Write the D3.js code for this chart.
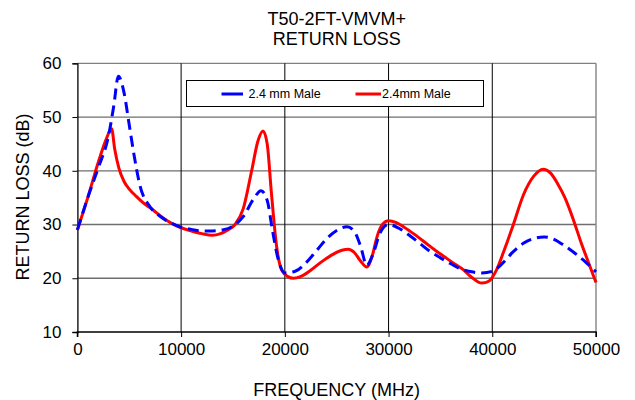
<!DOCTYPE html>
<html><head><meta charset="utf-8">
<script src="https://cdn.jsdelivr.net/npm/d3@7"></script>
<style>body{margin:0;background:#fff;} text{font-family:"Liberation Sans",Arial,sans-serif;fill:#000;}</style>
</head><body><svg id="c" width="635" height="400"></svg>
<script>
const titleLines = ["T50-2FT-VMVM+", "RETURN LOSS"];
const xLabel = "FREQUENCY (MHz)";
const yLabel = "RETURN LOSS (dB)";
const xTicks = [0, 10000, 20000, 30000, 40000, 50000];
const yTicks = [10, 20, 30, 40, 50, 60];
const seriesNames = ["2.4 mm Male", "2.4mm Male"];

const blueFreq = [0,1000,2000,3000,3500,3950,4500,5000,5500,6000,7000,8000,9000,10000,11000,12000,13000,14000,15000,16000,17000,17700,18300,18800,19300,20000,21000,22000,23000,24000,25000,26000,26700,27300,27900,28500,29200,30000,31000,32000,33000,34000,35000,36000,37000,38000,39000,40000,41000,42000,43000,44000,45000,46000,47000,48000,49000,50000];
const blueRL = [29,35,40.5,46.5,52,57.6,54.5,48.5,42.5,37.5,33.3,31.5,30.3,29.5,29.1,28.8,28.8,29,29.7,31.5,34.8,36.3,34.5,29,24,21,21.3,22.8,25,27.3,28.9,29.6,28.7,26,22.4,24.5,28.5,30,29.3,28,26.5,25,23.8,22.7,21.7,21.2,21,21.3,22.8,24.9,26.5,27.4,27.7,27.2,26,24.6,23,21.2];

const redFreq = [0,1000,2000,2800,3300,3600,4000,4500,5000,5700,6500,7300,8000,9000,10000,11000,12000,13000,13800,14500,15200,16000,16800,17400,17900,18300,18700,19200,19700,20300,20800,21500,22500,23500,24500,25500,26100,26700,27300,27900,28400,28900,29400,30000,30700,31500,32400,33500,34500,35600,36500,37200,38000,39000,39700,40400,41200,42000,43000,44000,44900,45600,46300,47000,47800,48500,49300,50000];
const redRL = [29,35,41.5,46,47.8,44,40.5,38,36.6,35.2,33.8,32.7,31.6,30.3,29.4,28.8,28.3,28,28.3,29,30,33,40,45.5,47.4,45,36,26,21.5,20.3,20,20.3,21.5,23,24.3,25.2,25.4,24.8,23.2,22.1,24,27.8,30,30.7,30.4,29.5,28.3,26.7,25.2,23.7,22.5,21.6,20.2,19.1,19.5,21.5,25.5,29.8,35.5,39,40.3,39.6,37.6,35,31,27,22.8,19.2];

const svg = d3.select("#c");
const m = {l:77.4, r:596, t:63.3, b:332};
const x = d3.scaleLinear().domain([0,50000]).range([m.l, m.r]);
const y = d3.scaleLinear().domain([10,60]).range([m.b, m.t]);

// gridlines
svg.append("g").selectAll("line").data(yTicks.filter(v=>v>10)).join("line")
  .attr("x1", m.l).attr("x2", m.r).attr("y1", d=>y(d)).attr("y2", d=>y(d))
  .attr("stroke", d=> d===60 ? "#808080" : "#6e6e6e").attr("stroke-width", 1.3);
svg.append("g").selectAll("line").data(xTicks.filter(v=>v>0)).join("line")
  .attr("x1", d=>x(d)).attr("x2", d=>x(d)).attr("y1", m.t).attr("y2", m.b)
  .attr("stroke", d=> d===50000 ? "#8c8c8c" : "#000").attr("stroke-width", d=> d===50000 ? 1.5 : 1);

// axes
const xa = svg.append("g").attr("transform", `translate(0,${m.b})`)
  .call(d3.axisBottom(x).tickValues(xTicks).tickFormat(d3.format("d")).tickSize(5).tickPadding(6));
const ya = svg.append("g").attr("transform", `translate(${m.l},0)`)
  .call(d3.axisLeft(y).tickValues(yTicks).tickSize(5).tickPadding(11));
[xa, ya].forEach(a => {
  a.select(".domain").attr("stroke", "#000").attr("stroke-width", 1.3);
  a.selectAll(".tick line").attr("stroke", "#000");
  a.selectAll(".tick text").attr("font-size", 17).attr("font-family", '"Liberation Sans",Arial,sans-serif').attr("fill", "#000");
});
xa.select(".domain").attr("d", `M${m.l},5V0H${m.r}V5`);

// lines
const line = d3.line().x(d=>x(d[0])).y(d=>y(d[1])).curve(d3.curveMonotoneX);
const blue = blueFreq.map((f,i)=>[f, blueRL[i]]);
const red = redFreq.map((f,i)=>[f, redRL[i]]);
svg.append("path").datum(red).attr("d", line).attr("fill","none").attr("stroke","#ff0000").attr("stroke-width",3);
svg.append("path").datum(blue).attr("d", line).attr("fill","none").attr("stroke","#0000ff").attr("stroke-width",3).attr("stroke-dasharray","11,6");

// legend
const lg = svg.append("g");
lg.append("rect").attr("x",186.5).attr("y",80.5).attr("width",297).attr("height",26).attr("fill","#fff").attr("stroke","#000").attr("stroke-width",1);
const lgItems = [{name:seriesNames[0], color:"#0000ff", x0:221.5, x1:243, tx:248.5},{name:seriesNames[1], color:"#ff0000", x0:355.5, x1:381, tx:382}];
lgItems.forEach(it=>{
  lg.append("line").attr("x1",it.x0).attr("x2",it.x1).attr("y1",94).attr("y2",94).attr("stroke",it.color).attr("stroke-width",3);
  lg.append("text").attr("x",it.tx).attr("y",94).attr("dy","0.35em").attr("font-size",12.5).text(it.name);
});

// titles
svg.append("text").attr("x",336.7).attr("y",25).attr("text-anchor","middle").attr("font-size",18).text(titleLines[0]);
svg.append("text").attr("x",336.7).attr("y",45).attr("text-anchor","middle").attr("font-size",18).text(titleLines[1]);
svg.append("text").attr("x",336.7).attr("y",396).attr("text-anchor","middle").attr("font-size",18).text(xLabel);
svg.append("text").attr("transform","translate(29,197) rotate(-90)").attr("text-anchor","middle").attr("font-size",18).text(yLabel);
</script></body></html>
